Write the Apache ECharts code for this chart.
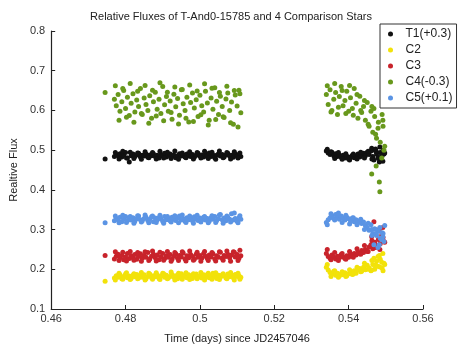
<!DOCTYPE html>
<html>
<head>
<meta charset="utf-8">
<script src="https://cdn.jsdelivr.net/npm/echarts@6/dist/echarts.min.js"></script>
<style>
  html, body { margin: 0; padding: 0; background: #fff; }
  #chart { width: 462px; height: 349px; }
</style>
</head>
<body>
<div id="chart"></div>
<script>
// first block of exposures (first value is the lone early point)
const timeA = [
  0.4745, 0.4770, 0.4775, 0.4780, 0.4785, 0.4790, 0.4795, 0.4800, 0.4805, 0.4810,
  0.4815, 0.4820, 0.4825, 0.4830, 0.4835, 0.4840, 0.4845, 0.4850, 0.4855, 0.4860,
  0.4865, 0.4870, 0.4875, 0.4880, 0.4885, 0.4890, 0.4895, 0.4900, 0.4905, 0.4910,
  0.4915, 0.4920, 0.4925, 0.4930, 0.4935, 0.4940, 0.4945, 0.4950, 0.4955, 0.4960,
  0.4965, 0.4970, 0.4975, 0.4980, 0.4985, 0.4990, 0.4995, 0.5000, 0.5005, 0.5010,
  0.5015, 0.5020, 0.5025, 0.5030, 0.5035, 0.5040, 0.5045, 0.5050, 0.5055, 0.5060,
  0.5065, 0.5070, 0.5075, 0.5080, 0.5085, 0.5090, 0.5095, 0.5100, 0.5105, 0.5110
];
const timeA2 = [
  0.47725, 0.47825, 0.47925, 0.48025, 0.48125, 0.48225, 0.48325, 0.48425, 0.48525, 0.48625,
  0.48725, 0.48825, 0.48925, 0.49025, 0.49125, 0.49225, 0.49325, 0.49425, 0.49525, 0.49625,
  0.49725, 0.49825, 0.49925, 0.50025, 0.50125, 0.50225, 0.50325, 0.50425, 0.50525, 0.50625,
  0.50725, 0.50825, 0.50925, 0.51025, 0.51075
];
// second block
const timeB = [
  0.5340, 0.5345, 0.5350, 0.5355, 0.5360, 0.5365, 0.5370, 0.5375, 0.5380, 0.5385,
  0.5390, 0.5395, 0.5400, 0.5405, 0.5410, 0.5415, 0.5420, 0.5425, 0.5430, 0.5435,
  0.5440, 0.5445, 0.5450, 0.5455, 0.5460, 0.5465, 0.5470, 0.5475, 0.5480, 0.5485,
  0.5490, 0.5495, 0.5462, 0.5468, 0.5474, 0.5479, 0.5484, 0.5489, 0.5492, 0.5497
];
const timeB2 = [
  0.53425, 0.53525, 0.53625, 0.53725, 0.53825, 0.53925, 0.54025, 0.54125,
  0.54225, 0.54325, 0.54425, 0.54525, 0.54625, 0.54725, 0.54825, 0.54925
];

const t1A = [
  0.478, 0.484, 0.489, 0.486, 0.491, 0.483, 0.488, 0.494, 0.480, 0.470,
  0.486, 0.490, 0.484, 0.488, 0.492, 0.483, 0.487, 0.485, 0.490, 0.482,
  0.488, 0.486, 0.491, 0.484, 0.487, 0.480, 0.489, 0.485, 0.492, 0.483,
  0.487, 0.490, 0.484, 0.488, 0.481, 0.486, 0.491, 0.485, 0.488, 0.483,
  0.490, 0.486, 0.484, 0.489, 0.482, 0.487, 0.492, 0.485, 0.488, 0.483,
  0.490, 0.486, 0.493, 0.484, 0.488, 0.481, 0.487, 0.491, 0.485, 0.489,
  0.483, 0.488, 0.492, 0.485, 0.487, 0.482, 0.490, 0.486, 0.489, 0.484
];
const t1A2 = [
  0.494, 0.478, 0.497, 0.480, 0.495, 0.479, 0.493, 0.477, 0.496, 0.481,
  0.494, 0.478, 0.497, 0.480, 0.495, 0.479, 0.498, 0.477, 0.493, 0.481,
  0.496, 0.478, 0.494, 0.480, 0.497, 0.479, 0.495, 0.477, 0.498, 0.481,
  0.494, 0.478, 0.496, 0.480, 0.493
];
const t1B = [
  0.498, 0.493, 0.489, 0.495, 0.486, 0.491, 0.484, 0.488, 0.482, 0.487,
  0.480, 0.485, 0.478, 0.483, 0.487, 0.481, 0.486, 0.490, 0.483, 0.488,
  0.492, 0.486, 0.495, 0.489, 0.498, 0.484, 0.500, 0.491, 0.479, 0.494,
  0.486, 0.490, 0.505, 0.475, 0.497, 0.482, 0.508, 0.488, 0.472, 0.493
];
const t1B2 = [
  0.502, 0.496, 0.479, 0.494, 0.477, 0.491, 0.475, 0.490,
  0.478, 0.495, 0.480, 0.497, 0.478, 0.503, 0.470, 0.500
];

const c2A = [
  0.170, 0.178, 0.184, 0.180, 0.186, 0.176, 0.182, 0.188, 0.179, 0.183,
  0.177, 0.185, 0.181, 0.187, 0.178, 0.183, 0.180, 0.186, 0.176, 0.182,
  0.188, 0.179, 0.184, 0.181, 0.186, 0.177, 0.183, 0.190, 0.180, 0.185,
  0.178, 0.182, 0.187, 0.180, 0.184, 0.176, 0.183, 0.189, 0.181, 0.185,
  0.179, 0.186, 0.182, 0.177, 0.184, 0.188, 0.180, 0.183, 0.178, 0.186,
  0.181, 0.187, 0.179, 0.184, 0.190, 0.182, 0.177, 0.185, 0.180, 0.186,
  0.183, 0.178, 0.188, 0.181, 0.185, 0.179, 0.187, 0.182, 0.184, 0.180
];
const c2A2 = [
  0.173, 0.190, 0.175, 0.191, 0.174, 0.189, 0.176, 0.192, 0.173, 0.190,
  0.175, 0.191, 0.174, 0.189, 0.176, 0.193, 0.173, 0.190, 0.175, 0.191,
  0.174, 0.189, 0.176, 0.192, 0.173, 0.190, 0.175, 0.191, 0.174, 0.189,
  0.176, 0.192, 0.173, 0.190, 0.175
];
const c2B = [
  0.205, 0.198, 0.192, 0.188, 0.195, 0.185, 0.190, 0.183, 0.188, 0.186,
  0.191, 0.184, 0.189, 0.193, 0.187, 0.196, 0.190, 0.198, 0.202, 0.195,
  0.205, 0.199, 0.210, 0.203, 0.196, 0.212, 0.200, 0.220, 0.207, 0.225,
  0.203, 0.215, 0.198, 0.228, 0.210, 0.232, 0.206, 0.218, 0.240, 0.212
];
const c2B2 = [
  0.212, 0.182, 0.196, 0.180, 0.194, 0.182, 0.199, 0.188,
  0.205, 0.194, 0.215, 0.200, 0.222, 0.208, 0.235, 0.196
];

const c3A = [
  0.235, 0.226, 0.233, 0.238, 0.229, 0.235, 0.224, 0.231, 0.240, 0.227,
  0.234, 0.229, 0.237, 0.225, 0.232, 0.239, 0.228, 0.235, 0.230, 0.242,
  0.226, 0.233, 0.238, 0.229, 0.236, 0.224, 0.231, 0.240, 0.227, 0.234,
  0.230, 0.237, 0.225, 0.233, 0.239, 0.228, 0.235, 0.231, 0.241, 0.226,
  0.234, 0.229, 0.237, 0.232, 0.225, 0.238, 0.230, 0.235, 0.228, 0.240,
  0.233, 0.227, 0.236, 0.231, 0.239, 0.226, 0.234, 0.230, 0.243, 0.228,
  0.235, 0.232, 0.238, 0.229, 0.236, 0.244, 0.231, 0.237, 0.228, 0.234
];
const c3A2 = [
  0.244, 0.222, 0.243, 0.221, 0.245, 0.223, 0.242, 0.220, 0.244, 0.222,
  0.246, 0.221, 0.243, 0.223, 0.245, 0.220, 0.242, 0.222, 0.244, 0.221,
  0.246, 0.223, 0.243, 0.220, 0.245, 0.222, 0.242, 0.221, 0.244, 0.223,
  0.246, 0.220, 0.243, 0.222, 0.248
];
const c3B = [
  0.240, 0.232, 0.228, 0.236, 0.230, 0.226, 0.233, 0.229, 0.237, 0.231,
  0.227, 0.234, 0.230, 0.238, 0.233, 0.240, 0.236, 0.243, 0.239, 0.247,
  0.242, 0.250, 0.245, 0.256, 0.262, 0.252, 0.268, 0.258, 0.275, 0.264,
  0.290, 0.270, 0.282, 0.320, 0.260, 0.298, 0.250, 0.285, 0.305, 0.268
];
const c3B2 = [
  0.250, 0.224, 0.242, 0.222, 0.240, 0.225, 0.245, 0.230,
  0.252, 0.238, 0.260, 0.245, 0.272, 0.255, 0.300, 0.280
];

const c4A = [
  0.645, 0.628, 0.612, 0.640, 0.598, 0.622, 0.650, 0.605, 0.633, 0.587,
  0.618, 0.642, 0.596, 0.626, 0.610, 0.655, 0.590, 0.631, 0.615, 0.600,
  0.637, 0.580, 0.622, 0.646, 0.603, 0.628, 0.592, 0.660, 0.614, 0.635,
  0.598, 0.624, 0.578, 0.641, 0.609, 0.630, 0.588, 0.652, 0.617, 0.600,
  0.633, 0.571, 0.620, 0.644, 0.606, 0.627, 0.585, 0.638, 0.612, 0.596,
  0.648, 0.619, 0.575, 0.631, 0.603, 0.657, 0.623, 0.590, 0.636, 0.610,
  0.582, 0.629, 0.644, 0.600, 0.621, 0.565, 0.639, 0.611, 0.651, 0.594
];
const c4A2 = [
  0.662, 0.575, 0.655, 0.583, 0.668, 0.570, 0.648, 0.592, 0.663, 0.568,
  0.651, 0.586, 0.670, 0.574, 0.646, 0.595, 0.659, 0.566, 0.653, 0.580,
  0.664, 0.572, 0.649, 0.589, 0.667, 0.563, 0.656, 0.577, 0.645, 0.584,
  0.661, 0.569, 0.650, 0.558, 0.642
];
const c4B = [
  0.640, 0.615, 0.652, 0.600, 0.628, 0.645, 0.590, 0.635, 0.660, 0.612,
  0.625, 0.648, 0.598, 0.632, 0.605, 0.655, 0.618, 0.580, 0.636, 0.595,
  0.610, 0.575, 0.620, 0.560, 0.598, 0.545, 0.585, 0.530, 0.570, 0.520,
  0.590, 0.500, 0.440, 0.605, 0.460, 0.555, 0.395, 0.480, 0.575, 0.510
];
const c4B2 = [
  0.662, 0.596, 0.668, 0.608, 0.650, 0.592, 0.663, 0.588,
  0.640, 0.600, 0.625, 0.565, 0.610, 0.540, 0.420, 0.560
];

const c5A = [
  0.317, 0.322, 0.328, 0.325, 0.331, 0.320, 0.326, 0.333, 0.323, 0.329,
  0.324, 0.330, 0.321, 0.327, 0.334, 0.325, 0.322, 0.328, 0.331, 0.323,
  0.326, 0.332, 0.320, 0.329, 0.324, 0.330, 0.327, 0.321, 0.333, 0.325,
  0.328, 0.322, 0.331, 0.326, 0.323, 0.329, 0.334, 0.324, 0.327, 0.321,
  0.330, 0.325, 0.328, 0.322, 0.332, 0.326, 0.323, 0.329, 0.325, 0.331,
  0.324, 0.328, 0.321, 0.330, 0.326, 0.333, 0.323, 0.327, 0.338, 0.325,
  0.329, 0.322, 0.331, 0.326, 0.340, 0.324, 0.328, 0.321, 0.330, 0.326
];
const c5A2 = [
  0.334, 0.317, 0.336, 0.318, 0.333, 0.316, 0.335, 0.319, 0.337, 0.317,
  0.334, 0.318, 0.336, 0.316, 0.333, 0.319, 0.335, 0.317, 0.337, 0.318,
  0.334, 0.316, 0.336, 0.319, 0.333, 0.317, 0.335, 0.318, 0.337, 0.316,
  0.334, 0.319, 0.342, 0.317, 0.335
];
const c5B = [
  0.318, 0.325, 0.330, 0.335, 0.328, 0.338, 0.332, 0.326, 0.334, 0.329,
  0.324, 0.331, 0.327, 0.322, 0.329, 0.320, 0.325, 0.318, 0.322, 0.315,
  0.319, 0.310, 0.305, 0.298, 0.312, 0.290, 0.302, 0.285, 0.296, 0.278,
  0.292, 0.270, 0.300, 0.262, 0.288, 0.255, 0.305, 0.275, 0.282, 0.310
];
const c5B2 = [
  0.312, 0.340, 0.324, 0.342, 0.318, 0.336, 0.314, 0.330,
  0.312, 0.326, 0.300, 0.316, 0.285, 0.300, 0.262, 0.290
];

const seriesNames = ['T1(+0.3)', 'C2', 'C3', 'C4(-0.3)', 'C5(+0.1)'];
const seriesColors = ['#111111', '#f2e20a', '#c8232b', '#68981c', '#5b94e4'];

const zip = (ts, vs) => ts.map((t, i) => [t, vs[i]]);
const pair = (a, a2, b, b2) =>
  zip(timeA, a).concat(zip(timeA2, a2), zip(timeB, b), zip(timeB2, b2));

const seriesData = [
  pair(t1A, t1A2, t1B, t1B2),
  pair(c2A, c2A2, c2B, c2B2),
  pair(c3A, c3A2, c3B, c3B2),
  pair(c4A, c4A2, c4B, c4B2),
  pair(c5A, c5A2, c5B, c5B2),
];

const chart = echarts.init(document.getElementById('chart'), null, { renderer: 'canvas' });
const font = 'Liberation Sans, Arial, sans-serif';

chart.setOption({
  animation: false,
  backgroundColor: '#fff',
  title: {
    text: 'Relative Fluxes of T-And0-15785 and 4 Comparison Stars',
    left: 'center',
    top: 6,
    textStyle: { fontFamily: font, fontSize: 11, fontWeight: 'normal', color: '#222' },
  },
  legend: {
    orient: 'vertical',
    left: 380,
    top: 24,
    padding: [4, 4, 4, 8],
    itemGap: 4,
    itemWidth: 20,
    itemHeight: 5,
    icon: 'circle',
    borderColor: '#333',
    borderWidth: 1,
    backgroundColor: '#fff',
    data: seriesNames,
    textStyle: { fontFamily: font, fontSize: 12, color: '#222', lineHeight: 12, padding: 0 },
  },
  grid: { left: 49, right: 39, top: 31, bottom: 36, containLabel: false },
  xAxis: {
    type: 'value',
    min: 0.46,
    max: 0.56,
    interval: 0.02,
    name: 'Time (days) since JD2457046',
    nameLocation: 'middle',
    nameGap: 24,
    nameTextStyle: { fontFamily: font, fontSize: 11, color: '#222' },
    axisLine: { show: true, lineStyle: { color: '#222', width: 1.2 } },
    axisTick: { show: true, inside: true, length: 4, lineStyle: { color: '#222' } },
    axisLabel: { fontFamily: font, fontSize: 11, color: '#333', margin: 4 },
    splitLine: { show: false },
  },
  yAxis: {
    type: 'value',
    min: 0.1,
    max: 0.8,
    interval: 0.1,
    name: 'Realtive Flux',
    nameLocation: 'middle',
    nameGap: 32,
    nameTextStyle: { fontFamily: font, fontSize: 11, color: '#222' },
    axisLine: { show: true, lineStyle: { color: '#222', width: 1.2 } },
    axisTick: { show: true, inside: true, length: 4, lineStyle: { color: '#222' } },
    axisLabel: { fontFamily: font, fontSize: 11, color: '#333', margin: 6 },
    splitLine: { show: false },
  },
  series: seriesNames.map((name, i) => ({
    name,
    type: 'scatter',
    data: seriesData[i],
    symbol: 'circle',
    symbolSize: 5,
    itemStyle: { color: seriesColors[i], opacity: 1 },
  })),
});
</script>
</body>
</html>
